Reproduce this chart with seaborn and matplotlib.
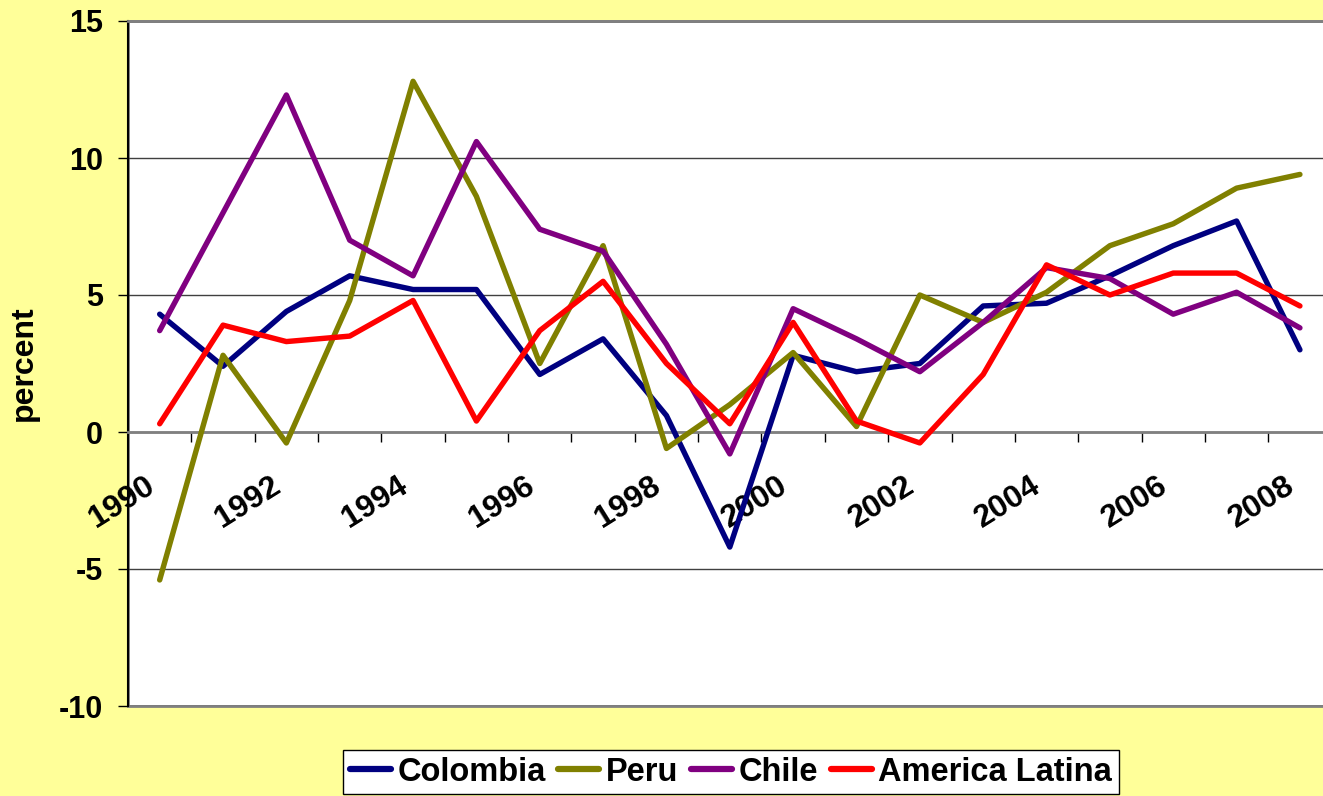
import pandas as pd
import seaborn as sns
import matplotlib.pyplot as plt
from matplotlib.lines import Line2D
from matplotlib.transforms import ScaledTranslation

years = list(range(1990, 2009))
colombia = [4.3, 2.4, 4.4, 5.7, 5.2, 5.2, 2.1, 3.4, 0.6, -4.2, 2.8, 2.2, 2.5, 4.6, 4.7, 5.7, 6.8, 7.7, 3.0]
peru = [-5.4, 2.8, -0.4, 4.8, 12.8, 8.6, 2.5, 6.8, -0.6, 1.0, 2.9, 0.2, 5.0, 4.0, 5.1, 6.8, 7.6, 8.9, 9.4]
chile = [3.7, 8.0, 12.3, 7.0, 5.7, 10.6, 7.4, 6.6, 3.2, -0.8, 4.5, 3.4, 2.2, 4.0, 6.0, 5.6, 4.3, 5.1, 3.8]
latam = [0.3, 3.9, 3.3, 3.5, 4.8, 0.4, 3.7, 5.5, 2.5, 0.3, 4.0, 0.4, -0.4, 2.1, 6.1, 5.0, 5.8, 5.8, 4.6]

countries = ['Colombia', 'Peru', 'Chile', 'America Latina']
colors = {'Colombia': '#000080', 'Peru': '#808000', 'Chile': '#800080', 'America Latina': '#FF0000'}

rows = []
for name, vals in zip(countries, [colombia, peru, chile, latam]):
    for y, v in zip(years, vals):
        rows.append({'year': y, 'value': v, 'country': name})
df = pd.DataFrame(rows)

sns.set_style('white')
plt.rcParams['font.family'] = ['Liberation Sans', 'DejaVu Sans']
plt.rcParams['font.weight'] = 'bold'
plt.rcParams['axes.unicode_minus'] = False
for k in ['text.color', 'axes.labelcolor', 'xtick.color', 'ytick.color']:
    plt.rcParams[k] = 'black'

fig = plt.figure(figsize=(13.23, 7.96), dpi=100, facecolor='#FFFF99')
ax = fig.add_axes([128 / 1323, 1 - 706 / 796, 1203.6 / 1323, 685 / 796])
ax.set_facecolor('white')

sns.lineplot(data=df, x='year', y='value', hue='country', hue_order=countries,
             palette=colors, linewidth=3.9, ax=ax, legend=False, zorder=3)

ax.set_xlim(1989.5, 2008.5)
ax.set_ylim(-10, 15)
ax.set_yticks(range(-10, 16, 5))
ax.set_xlabel('')
ax.set_ylabel('percent', fontsize=23, fontweight='bold')
ax.yaxis.set_label_coords(-0.074, 0.5)

# plot area border
ax.patch.set_edgecolor('#808080')
ax.patch.set_linewidth(2)
ax.spines['bottom'].set_position(('data', 0))
ax.spines['bottom'].set_color('#808080')
ax.spines['bottom'].set_linewidth(2)
ax.spines['top'].set_color('#808080')
ax.spines['top'].set_linewidth(2)
ax.spines['right'].set_visible(False)
ax.spines['left'].set_color('black')
ax.spines['left'].set_linewidth(1.5)

ax.yaxis.grid(True, color='#404040', linewidth=1)
ax.xaxis.grid(False)
ax.set_axisbelow(True)

ax.set_xticks(years[::2])
ax.set_xticklabels([str(y) for y in years[::2]], rotation=32, ha='right', va='top',
                   rotation_mode='anchor', fontsize=23)
ax.set_xticks([y + 0.5 for y in years[:-1]], minor=True)
ax.tick_params(axis='x', which='major', bottom=True, length=0, pad=28)
ax.tick_params(axis='x', which='minor', bottom=True, length=7, width=1, color='black', direction='out')
ax.tick_params(axis='y', left=True, length=7, width=1, color='black', direction='out', pad=11, labelsize=22)

off = ScaledTranslation(-16 / 100, 0, fig.dpi_scale_trans)
for lab in ax.get_xticklabels():
    lab.set_transform(lab.get_transform() + off)

handles = [Line2D([], [], color=colors[c], linewidth=4.5) for c in countries]
leg = fig.legend(handles, countries, loc='upper center', bbox_to_anchor=(731 / 1323, 1 - 750 / 796),
                 ncol=4, frameon=True, fancybox=False, edgecolor='black', facecolor='white',
                 fontsize=23.5, handlelength=1.25, handletextpad=0.2, columnspacing=0.4,
                 borderpad=0.2, borderaxespad=0)
leg.get_frame().set_linewidth(1)
leg.get_frame().set_alpha(None)

fig.savefig('out.png', dpi=100, facecolor=fig.get_facecolor())
